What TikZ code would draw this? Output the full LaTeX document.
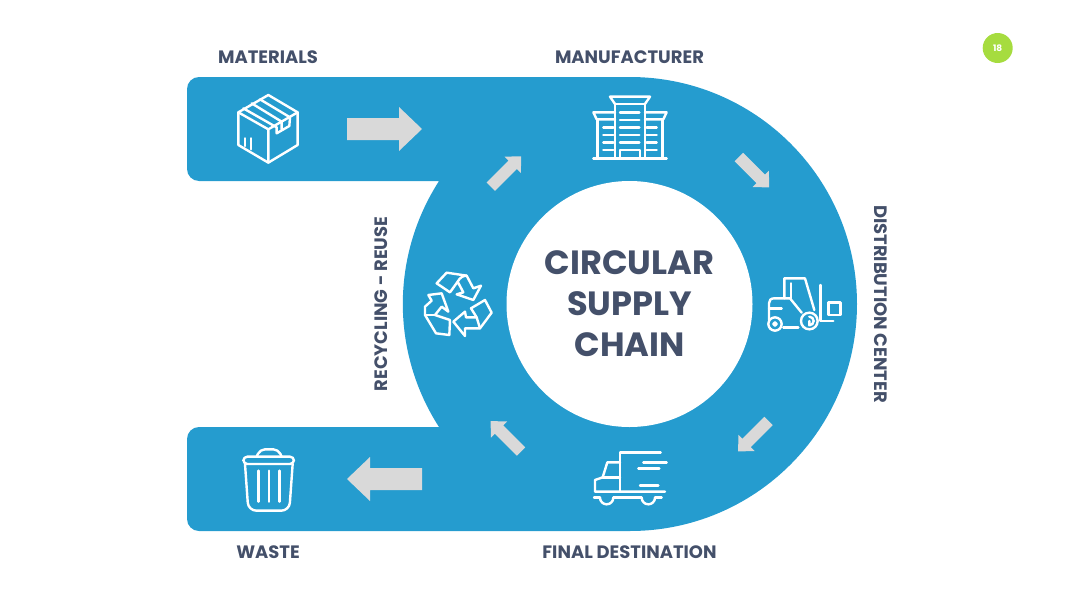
\documentclass[tikz,border=0pt]{standalone}
\usepackage{fontspec}
\setmainfont{Poppins}
\definecolor{bandblue}{HTML}{259CCF}
\definecolor{labelink}{HTML}{44506A}
\definecolor{arrowgrey}{HTML}{D9D9D9}
\definecolor{badgegreen}{HTML}{A6DC3F}
\tikzset{
  lbl/.style={text=labelink,font=\fontsize{17.95}{20}\selectfont\bfseries,inner sep=0pt},
  icon/.style={draw=white,line width=2.4pt,line join=round,line cap=round},
  grey/.style={fill=arrowgrey,draw=none},
}
\newcommand{\bigarrow}[3]{% x y rotation: block arrow, origin at tail centre
  \fill[grey,shift={(#1,#2)},rotate=#3] (0,-11) -- (52,-11) -- (52,-22) -- (75,0) -- (52,22) -- (52,11) -- (0,11) -- cycle;}
\newcommand{\smallarrow}[3]{%
  \fill[grey,shift={(#1,#2)},rotate=#3] (0,-6) -- (31,-6) -- (31,-11.5) -- (43,0) -- (31,11.5) -- (31,6) -- (0,6) -- cycle;}
\begin{document}
\begin{tikzpicture}[x=1pt,y=-1pt]
\useasboundingbox (0,0) rectangle (1080,608);
% band
\fill[bandblue] (199,77) -- (630,77) arc[start angle=-90,end angle=90,radius=227]
  -- (199,531) arc[start angle=90,end angle=180,radius=12] -- (187,439)
  arc[start angle=180,end angle=270,radius=12] -- (439,427)
  arc[start angle=147.2,end angle=212.8,radius=227] -- (199,181)
  arc[start angle=90,end angle=180,radius=12] -- (187,89)
  arc[start angle=180,end angle=270,radius=12] -- cycle;
% centre
\node[circle,fill=white,minimum size=246pt,inner sep=0pt,align=center,text=labelink,
  font=\fontsize{33.6}{41}\selectfont\bfseries] (hub) at (629.5,304) {CIRCULAR\\SUPPLY\\CHAIN};
% labels
\node[lbl] (materials) at (268,57) {MATERIALS};
\node[lbl] (manufacturer) at (629.5,57) {MANUFACTURER};
\node[lbl] (waste) at (268,552) {WASTE};
\node[lbl] (final) at (629.5,552) {FINAL DESTINATION};
\node[lbl,rotate=90] (recycling) at (381.5,304) {RECYCLING - REUSE};
\node[lbl,rotate=-90] (distribution) at (880.5,304) {DISTRIBUTION CENTER};
% badge
\node[circle,fill=badgegreen,minimum size=30pt,inner sep=0pt,text=white,font=\fontsize{9}{10}\selectfont\bfseries] (badge) at (997.7,48) {18};
% arrows
\bigarrow{347}{129}{0}
\bigarrow{422}{479}{180}
\smallarrow{490.8}{186.7}{45}
\smallarrow{738.8}{157}{-45}
\smallarrow{768.5}{421}{-135}
\smallarrow{521}{451.5}{135}
% box icon
\begin{scope}[shift={(180,70)},x=0.3333pt,y=-0.3333pt,icon]
\draw (265,75) -- (353,127) -- (353,225) -- (265,278) -- (175,225) -- (175,127) -- cycle;
\draw (175,127) -- (265,178) -- (353,127) (265,178) -- (265,278);
\draw (190,115) -- (290,172) -- (290,190) -- (328,168) -- (330,142) -- (240,88);
\draw (215,100) -- (305,155) -- (305,178);
\draw (195,205) -- (195,228) (213,205) -- (213,238);
\end{scope}
% building icon
\begin{scope}[shift={(570,80)},x=0.3333pt,y=-0.3333pt,icon]
\draw (70,235) -- (290,235);
\draw (135,235) -- (135,72) -- (225,72) -- (225,235);
\draw (135,72) -- (120,50) -- (240,50) -- (225,72);
\draw (135,118) -- (80,118) -- (70,97) -- (135,97);
\draw (82,118) -- (82,235);
\draw (225,118) -- (280,118) -- (290,97) -- (225,97);
\draw (278,118) -- (278,235);
\foreach \yy in {97,120,143,165,188} \draw (150,\yy) -- (208,\yy);
\foreach \yy in {143,165,188,210} {\draw (100,\yy) -- (130,\yy); \draw (230,\yy) -- (260,\yy);}
\draw (150,235) -- (150,210) -- (210,210) -- (210,235);
\end{scope}
% forklift icon
\begin{scope}[shift={(755,265)},x=0.3333pt,y=-0.3333pt,icon]
\draw (88,100) -- (88,40) -- (150,40) -- (178,135);
\draw (108,55) -- (108,100);
\draw (140,143) -- (105,100) -- (58,100) .. controls (47,100) and (42,106) .. (42,115) -- (42,165);
\draw (42,130) -- (80,130);
\draw (85,187) -- (130,187);
\draw (197,60) -- (197,168) -- (235,168);
\draw (220,112) rectangle (257,150);
\draw (60,177) circle[radius=20];
\draw (60,177) circle[radius=5];
\draw (163,168) circle[radius=25];
\draw (163,155) arc[start angle=-90,end angle=90,radius=13] -- (163,168);
\end{scope}
% truck icon
\begin{scope}[shift={(580,440)},x=0.3333pt,y=-0.3333pt,icon]
\draw (242,37) -- (120,37) -- (120,155);
\draw (120,67) -- (82,67) -- (68,112) -- (45,120) -- (45,155) -- (255,155);
\draw (68,112) -- (120,112);
\draw (190,67) -- (260,67) (175,85) -- (238,85) (180,137) -- (235,137);
\draw (42,173) -- (60,173) (100,173) -- (185,173) (225,173) -- (245,173);
\draw (60,173) arc[start angle=180,end angle=0,radius=20];
\draw (185,173) arc[start angle=180,end angle=0,radius=20];
\end{scope}
% recycle icon
\begin{scope}[shift={(410,260)},x=0.3333pt,y=-0.3333pt,icon]
\draw (80,70) -- (110,38) -- (170,47) -- (190,85) -- (213,77) -- (190,120) -- (140,103) -- (160,97) -- (143,65) -- (120,97) -- cycle;
\draw (143,65) .. controls (150,52) and (160,47) .. (170,47);
\draw (55,105) -- (95,100) -- (115,155) -- (95,140) -- (75,165) -- (120,180) -- (118,225) -- (78,220) -- (45,165) -- (45,140) -- (65,122) -- cycle;
\draw (45,165) -- (75,165);
\draw (130,185) -- (165,155) -- (168,172) -- (200,172) -- (183,145) -- (225,120) -- (245,158) -- (210,205) -- (165,205) -- (165,228) -- cycle;
\draw (200,172) -- (210,205);
\end{scope}
% trash icon
\begin{scope}[shift={(230,440)},x=0.3333pt,y=-0.3333pt,icon]
\draw[rounded corners=4pt] (40,72) -- (40,50) -- (192,50) -- (192,72) -- cycle;
\draw[rounded corners=5pt] (80,50) -- (90,28) -- (145,28) -- (155,50);
\draw[rounded corners=8pt] (45,72) -- (55,212) -- (178,212) -- (188,72);
\draw (85,92) -- (85,185) (117,92) -- (117,185) (149,92) -- (149,185);
\end{scope}
\end{tikzpicture}
\end{document}
